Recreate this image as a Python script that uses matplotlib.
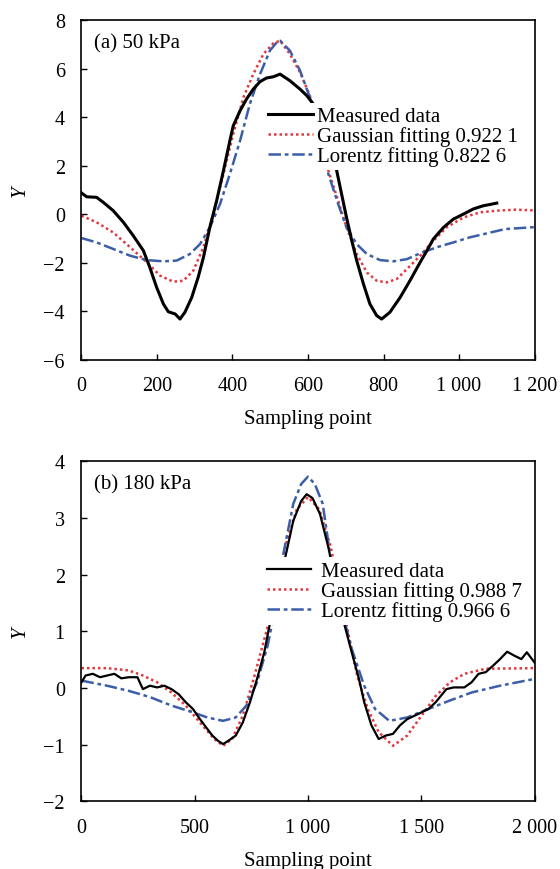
import matplotlib
matplotlib.use('Agg')
import matplotlib.pyplot as plt

plt.rcParams['font.family'] = ['Liberation Serif', 'DejaVu Serif']
plt.rcParams['font.size'] = 15
plt.rcParams['axes.unicode_minus'] = True

# ---- panel (a) 50 kPa ----
a_meas_x = [0, 14, 40, 58, 84, 111, 137, 164, 181, 199, 217, 230, 248, 261, 274, 292, 309, 323,
            340, 358, 376, 393, 402, 420, 437, 455, 473, 490, 508, 526, 552, 579, 597, 614, 645,
            676, 689, 702, 716, 729, 747, 764, 782, 795, 817, 844, 870, 897, 915, 932, 959, 985,
            1012, 1038, 1064, 1100]
a_meas_y = [0.87, 0.71, 0.69, 0.48, 0.14, -0.34, -0.89, -1.51, -2.2, -3.02, -3.71, -4.03, -4.12,
            -4.33, -4.05, -3.44, -2.61, -1.79, -0.55, 0.55, 1.79, 3.02, 3.64, 4.26, 4.74, 5.15,
            5.46, 5.61, 5.66, 5.77, 5.5, 5.15, 4.88, 4.54, 3.4, 1.79, 0.82, -0.14, -1.1, -1.92,
            -2.89, -3.71, -4.19, -4.33, -4.05, -3.44, -2.75, -1.99, -1.51, -1.03, -0.55, -0.21,
            0.0, 0.21, 0.34, 0.45]

a_gauss_x = [0, 40, 84, 129, 173, 208, 243, 270, 296, 323, 349, 376, 402, 429, 455, 482, 508,
             526, 552, 579, 605, 630, 654, 680, 702, 729, 756, 782, 808, 835, 862, 897, 932,
             967, 1012, 1056, 1100, 1150, 1200]
a_gauss_y = [-0.07, -0.34, -0.76, -1.37, -1.99, -2.54, -2.79, -2.75, -2.34, -1.37, 0.0, 1.65,
             3.3, 4.81, 5.77, 6.6, 7.04, 7.15, 6.6, 5.84, 4.88, 3.4, 1.79, 0.55, -0.55, -1.65,
             -2.41, -2.75, -2.82, -2.68, -2.27, -1.72, -1.1, -0.55, -0.14, 0.07, 0.14, 0.18, 0.15]

a_lor_x = [0, 40, 84, 129, 173, 217, 252, 287, 314, 340, 367, 393, 420, 446, 473, 499, 521,
           526, 552, 579, 605, 630, 654, 680, 702, 729, 756, 791, 826, 862, 897, 941, 985,
           1029, 1073, 1122, 1200]
a_lor_y = [-0.99, -1.17, -1.44, -1.72, -1.9, -1.95, -1.92, -1.65, -1.24, -0.55, 0.41, 1.65,
           3.02, 4.54, 5.77, 6.74, 7.15, 7.15, 6.74, 5.91, 4.81, 3.3, 1.65, 0.41, -0.55, -1.24,
           -1.65, -1.9, -1.95, -1.86, -1.62, -1.37, -1.17, -0.96, -0.8, -0.62, -0.54]

# ---- panel (b) 180 kPa ----
b_meas_x = [0, 18, 50, 82, 113, 145, 176, 208, 247, 271, 302, 334, 366, 397, 429, 460, 492,
            523, 555, 578, 602, 625, 649, 681, 712, 744, 775, 807, 830, 860, 906, 935, 970,
            994, 1020, 1053, 1090, 1125, 1162, 1193, 1225, 1248, 1280, 1312, 1343, 1375, 1406,
            1438, 1470, 1501, 1532, 1564, 1611, 1643, 1690, 1722, 1753, 1785, 1816, 1848, 1879,
            1911, 1942, 1966, 2000]
b_meas_y = [0.1, 0.22, 0.25, 0.19, 0.22, 0.25, 0.17, 0.19, 0.19, -0.02, 0.04, 0.01, 0.04, -0.02,
            -0.11, -0.25, -0.37, -0.55, -0.72, -0.84, -0.93, -0.99, -0.93, -0.84, -0.61, -0.25,
            0.16, 0.63, 1.1, 1.6, 2.42, 2.95, 3.3, 3.42, 3.35, 3.07, 2.48, 1.8, 1.1, 0.63, 0.16,
            -0.25, -0.66, -0.9, -0.84, -0.81, -0.66, -0.55, -0.49, -0.43, -0.37, -0.25, -0.02,
            0.01, 0.01, 0.1, 0.25, 0.28, 0.39, 0.51, 0.64, 0.57, 0.51, 0.63, 0.45]

b_gauss_x = [0, 113, 208, 271, 334, 397, 460, 523, 586, 625, 665, 712, 760, 807, 850, 900,
             950, 1000, 1050, 1100, 1150, 1217, 1264, 1312, 1375, 1438, 1501, 1564, 1627, 1690,
             1785, 2000]
b_gauss_y = [0.35, 0.35, 0.31, 0.22, 0.1, -0.08, -0.31, -0.61, -0.9, -1.02, -0.9, -0.49, 0.16,
             0.86, 1.5, 2.5, 3.15, 3.37, 3.15, 2.5, 1.5, 0.22, -0.37, -0.78, -1.02, -0.84, -0.49,
             -0.14, 0.1, 0.25, 0.34, 0.35]

b_lor_x = [0, 113, 208, 302, 397, 492, 555, 625, 681, 728, 775, 822, 860, 891, 935, 970, 1000,
           1030, 1065, 1097, 1140, 1193, 1248, 1296, 1359, 1438, 1532, 1627, 1722, 1848, 2000]
b_lor_y = [0.13, 0.04, -0.05, -0.16, -0.31, -0.43, -0.52, -0.58, -0.52, -0.31, 0.1, 0.75, 1.5,
           2.36, 3.25, 3.6, 3.73, 3.6, 3.25, 2.36, 1.5, 0.69, 0.04, -0.37, -0.58, -0.52, -0.37,
           -0.22, -0.08, 0.04, 0.16]

panels = [
    dict(tag='(a) 50 kPa', meas=(a_meas_x, a_meas_y), gauss=(a_gauss_x, a_gauss_y),
         lor=(a_lor_x, a_lor_y), r2=('0.922 1', '0.822 6'),
         xlim=(0, 1200), xticks=[0, 200, 400, 600, 800, 1000, 1200],
         xlabels=['0', '200', '400', '600', '800', '1 000', '1 200'],
         ylim=(-6, 8), yticks=[-6, -4, -2, 0, 2, 4, 6, 8],
         leg=(0.4025, 0.657), textpad=0.2, lw=2.2),
    dict(tag='(b) 180 kPa', meas=(b_meas_x, b_meas_y), gauss=(b_gauss_x, b_gauss_y),
         lor=(b_lor_x, b_lor_y), r2=('0.988 7', '0.966 6'),
         xlim=(0, 2000), xticks=[0, 500, 1000, 1500, 2000],
         xlabels=['0', '500', '1 000', '1 500', '2 000'],
         ylim=(-2, 4), yticks=[-2, -1, 0, 1, 2, 3, 4],
         leg=(0.3996, 0.618), textpad=0.48, lw=1.6),
]

red = '#e2383d'
blue = '#3c5ea8'

fig = plt.figure(figsize=(5.6, 8.7), dpi=100)
rects = [[0.1455, 0.5856, 0.809, 0.3902], [0.1455, 0.0778, 0.809, 0.3908]]

for rect, p in zip(rects, panels):
    ax = fig.add_axes(rect)
    ax.plot(*p['meas'], color='black', lw=p['lw'], label='Measured data', zorder=3)
    ax.plot(*p['gauss'], color=red, lw=1.8, ls=(0, (1, 1.2)),
            label='Gaussian fitting ' + p['r2'][0], zorder=2)
    ax.plot(*p['lor'], color=blue, lw=1.8, ls=(0, (5, 1.5, 1.5, 1.5)),
            label='Lorentz fitting ' + p['r2'][1], zorder=2)
    ax.set_xlim(*p['xlim'])
    ax.set_ylim(*p['ylim'])
    ax.set_xticks(p['xticks'])
    ax.set_xticklabels(p['xlabels'])
    ax.set_yticks(p['yticks'])
    ax.tick_params(direction='in', length=4, width=1, pad=12, labelsize=14.5)
    for s in ax.spines.values():
        s.set_linewidth(1.2)
    ax.set_xlabel('Sampling point', fontsize=15, labelpad=10)
    ax.set_ylabel('Y', fontsize=15, style='italic', labelpad=10)
    ax.text(0.028, 0.934, p['tag'], transform=ax.transAxes, fontsize=15, va='center', ha='left')
    leg = ax.legend(loc='center left', bbox_to_anchor=p['leg'], frameon=True, fancybox=False,
                    framealpha=1, facecolor='white', edgecolor='none', fontsize=15,
                    handlelength=2.15, handletextpad=p['textpad'], labelspacing=0.0,
                    borderpad=0.2, borderaxespad=0)
    leg.set_zorder(5)

fig.savefig('out.png', dpi=100)
